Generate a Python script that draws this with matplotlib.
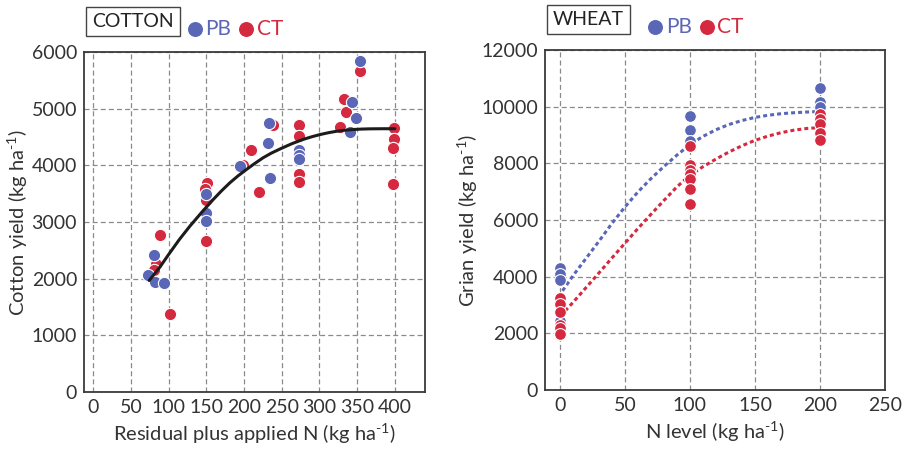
import matplotlib
matplotlib.use("Agg")
import matplotlib.pyplot as plt

plt.rcParams['font.family'] = ['Lato', 'DejaVu Sans']
plt.rcParams['mathtext.fontset'] = 'custom'
plt.rcParams['mathtext.rm'] = 'Lato'

BLUE = '#5a66b6'
RED = '#d4293f'

# cotton: residual + applied N vs yield
cot_pb_x = [354, 343, 349, 340, 273, 273, 273, 233, 232, 234, 194, 149, 150, 149, 80, 73, 82, 94]
cot_pb_y = [5840, 5120, 4840, 4580, 4270, 4180, 4120, 4755, 4400, 3785, 3985, 3490, 3155, 3015,
            2425, 2070, 1945, 1915]
cot_ct_x = [354, 332, 335, 327, 399, 399, 398, 398, 273, 273, 273, 273, 238, 209, 199, 220,
            151, 148, 149, 150, 89, 83, 80, 101]
cot_ct_y = [5660, 5175, 4945, 4680, 4660, 4460, 4300, 3675, 4720, 4515, 3850, 3710, 4720, 4265,
            4010, 3525, 3680, 3590, 3380, 2660, 2765, 2265, 2160, 1375]
cot_fit_x = [74, 88, 100, 114, 128, 144, 159, 170, 181, 192, 203, 214, 225, 236, 248, 263, 278,
             290, 301, 312, 323, 334, 345, 356, 367, 383, 400]
cot_fit_y = [1967, 2200, 2430, 2690, 2926, 3175, 3397, 3550, 3691, 3815, 3926, 4032, 4132, 4215,
             4291, 4380, 4456, 4505, 4544, 4576, 4602, 4620, 4632, 4640, 4644, 4646, 4646]

# wheat: N level vs grain yield
wht_pb_x = [0, 0, 0, 0, 100, 100, 100, 200, 200, 200]
wht_pb_y = [4320, 4105, 3880, 2440, 9670, 9180, 8790, 10670, 10150, 9970]
wht_ct_x = [0, 0, 0, 0, 0, 0, 100, 100, 100, 100, 100, 100, 100, 200, 200, 200, 200, 200]
wht_ct_y = [3260, 3025, 2765, 2300, 2180, 1985, 8610, 7945, 7765, 7610, 7435, 7080, 6575,
            9730, 9555, 9400, 9085, 8815]
wht_fit_x = [2, 10, 20, 30, 40, 50, 60, 70, 80, 90, 100, 110, 120, 130, 140, 150, 160, 170,
             180, 190, 200]
wht_pb_fit_y = [3500, 4030, 4640, 5250, 5880, 6460, 6990, 7460, 7890, 8290, 8660, 8950, 9185,
                9370, 9510, 9620, 9695, 9750, 9785, 9810, 9830]
wht_ct_fit_x = [4, 10, 20, 30, 40, 50, 60, 70, 80, 90, 100, 110, 120, 130, 140, 150, 160, 170,
                180, 190, 200]
wht_ct_fit_y = [2790, 3090, 3610, 4130, 4660, 5180, 5700, 6200, 6690, 7170, 7580, 7880, 8150,
                8400, 8620, 8810, 8960, 9080, 9170, 9230, 9260]

fig = plt.figure(figsize=(9.05, 4.53), dpi=100)
ax1 = fig.add_axes([0.0928, 0.1347, 0.3768, 0.7505])
ax2 = fig.add_axes([0.6022, 0.1391, 0.3757, 0.7506])

grid_kw = dict(color='#8a8a8a', linestyle=(0, (4, 2.5)), linewidth=0.9)


def style(ax):
    ax.grid(True, **grid_kw)
    ax.set_axisbelow(True)
    for s in ax.spines.values():
        s.set_color('#3a3a3a')
        s.set_linewidth(1.3)
    ax.tick_params(length=0, labelsize=14, colors='#333333', pad=5)


def header(ax, name):
    ax.text(0.024, 1.09, name, transform=ax.transAxes, fontsize=14, va='center', ha='left',
            color='#222222',
            bbox=dict(boxstyle='square,pad=0.32', fc='white', ec='#444444', lw=1.0))
    ax.scatter([0.325], [1.068], s=95, color=BLUE, transform=ax.transAxes, clip_on=False)
    ax.text(0.355, 1.068, 'PB', transform=ax.transAxes, fontsize=15, color=BLUE, va='center')
    ax.scatter([0.476], [1.068], s=95, color=RED, transform=ax.transAxes, clip_on=False)
    ax.text(0.507, 1.068, 'CT', transform=ax.transAxes, fontsize=15, color=RED, va='center')


# cotton panel
ax1.scatter(cot_ct_x, cot_ct_y, s=78, color=RED, edgecolors='white', linewidths=0.8, zorder=3)
ax1.scatter(cot_pb_x, cot_pb_y, s=78, color=BLUE, edgecolors='white', linewidths=0.8, zorder=3)
ax1.plot(cot_fit_x, cot_fit_y, color='#1c1c1c', lw=2.2, zorder=4, solid_capstyle='round')
ax1.set_xlim(-12.5, 440)
ax1.set_ylim(0, 6000)
ax1.set_xticks(range(0, 401, 50))
ax1.set_yticks(range(0, 6001, 1000))
ax1.set_xlabel('Residual plus applied N (kg ha$^{\\text{-1}}$)', fontsize=14.5, color='#333333')
ax1.set_ylabel('Cotton yield (kg ha$^{\\text{-1}}$)', fontsize=14.5, color='#333333', labelpad=1)
style(ax1)
header(ax1, 'COTTON')

# wheat panel
ax2.plot(wht_fit_x, wht_pb_fit_y, color=BLUE, lw=2.2, linestyle=(0, (1.3, 1.0)), zorder=2)
ax2.plot(wht_ct_fit_x, wht_ct_fit_y, color=RED, lw=2.2, linestyle=(0, (1.3, 1.0)), zorder=2)
ax2.scatter(wht_pb_x, wht_pb_y, s=72, color=BLUE, edgecolors='white', linewidths=0.8, zorder=3)
ax2.scatter(wht_ct_x, wht_ct_y, s=72, color=RED, edgecolors='white', linewidths=0.8, zorder=3)
ax2.set_xlim(-11.5, 250)
ax2.set_ylim(0, 12000)
ax2.set_xticks(range(0, 251, 50))
ax2.set_yticks(range(0, 12001, 2000))
ax2.set_xlabel('N level (kg ha$^{\\text{-1}}$)', fontsize=14.5, color='#333333')
ax2.set_ylabel('Grian yield (kg ha$^{\\text{-1}}$)', fontsize=14.5, color='#333333', labelpad=1)
style(ax2)
header(ax2, 'WHEAT')

fig.savefig('out.png', dpi=100)
